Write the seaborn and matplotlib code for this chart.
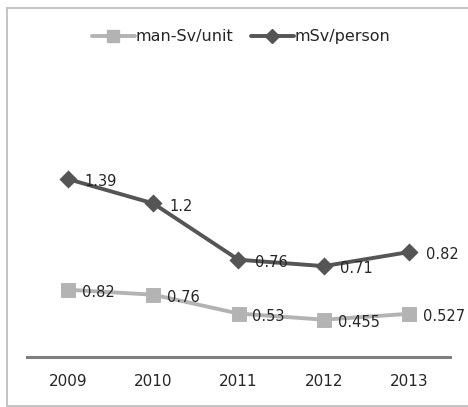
import matplotlib
matplotlib.use("Agg")
import matplotlib.pyplot as plt
import seaborn as sns
import pandas as pd
from matplotlib.lines import Line2D

years = ["2009", "2010", "2011", "2012", "2013"]
man_sv_unit = [0.82, 0.76, 0.53, 0.455, 0.527]
msv_person = [1.39, 1.2, 0.76, 0.71, 0.82]
unit_labels = ["0.82", "0.76", "0.53", "0.455", "0.527"]
person_labels = ["1.39", "1.2", "0.76", "0.71", "0.82"]

sns.set_theme(style="white")
plt.rcParams["font.family"] = ["DejaVu Sans"]

DARK = "#555555"
LIGHT = "#b3b3b3"
TXT = "#262626"
FRAME = "#bfbfbf"

fig = plt.figure(figsize=(4.68, 4.07), dpi=100)
fig.patch.set_facecolor("white")
W, H = 468.0, 407.0
# outer chart frame (left, top, bottom; right edge cropped)
fig.add_artist(Line2D([7 / W, 7 / W], [1.5 / H, 1 - 8 / H], transform=fig.transFigure,
                      color=FRAME, linewidth=1.3))
fig.add_artist(Line2D([7 / W, 1.0], [1 - 8 / H, 1 - 8 / H], transform=fig.transFigure,
                      color=FRAME, linewidth=1.3))
fig.add_artist(Line2D([7 / W, 1.0], [1.5 / H, 1.5 / H], transform=fig.transFigure,
                      color=FRAME, linewidth=1.3))

ax = fig.add_axes([27 / W, 50 / H, 423 / W, 327 / H])
ax2 = ax.twinx()

df = pd.DataFrame({"year": years, "unit": man_sv_unit, "person": msv_person})

sns.pointplot(data=df, x="year", y="unit", ax=ax2, color=LIGHT, markers="s",
              linestyles="-", markersize=8, linewidth=2.8)
sns.pointplot(data=df, x="year", y="person", ax=ax, color=DARK, markers="D",
              linestyles="-", markersize=7, linewidth=2.8)

for a in (ax, ax2):
    a.set_xlim(-0.48, 4.48)
    for s in a.spines.values():
        s.set_visible(False)
    a.set_ylabel("")
    a.set_xlabel("")
    a.set_yticks([])
    a.patch.set_alpha(0)

ax.set_ylim(0, 327 / 128)
ax2.set_ylim(0, 327 / 82)
ax.set_zorder(ax2.get_zorder() + 1)

ax.spines["bottom"].set_visible(True)
ax.spines["bottom"].set_color("#7f7f7f")
ax.spines["bottom"].set_linewidth(2.2)
ax.tick_params(axis="x", length=0, pad=12, labelsize=11, labelcolor=TXT)

for i, (v, t) in enumerate(zip(msv_person, person_labels)):
    ax.annotate(t, (i, v), xytext=(12, -2), textcoords="offset points",
                ha="left", va="center", fontsize=10.5, color=TXT)
for i, (v, t) in enumerate(zip(man_sv_unit, unit_labels)):
    ax2.annotate(t, (i, v), xytext=(10, -2), textcoords="offset points",
                 ha="left", va="center", fontsize=10.5, color=TXT)

handles = [
    Line2D([], [], color=LIGHT, marker="s", markersize=8, linewidth=2.8),
    Line2D([], [], color=DARK, marker="D", markersize=7, linewidth=2.8),
]
fig.legend(handles, ["man-Sv/unit", "mSv/person"], loc="center",
           bbox_to_anchor=(241 / W, 1 - 37 / H), ncol=2, frameon=False,
           fontsize=11.5, handlelength=2.7, handletextpad=0.05, columnspacing=1.1,
           labelcolor=TXT)

fig.savefig("out.png", dpi=100)
